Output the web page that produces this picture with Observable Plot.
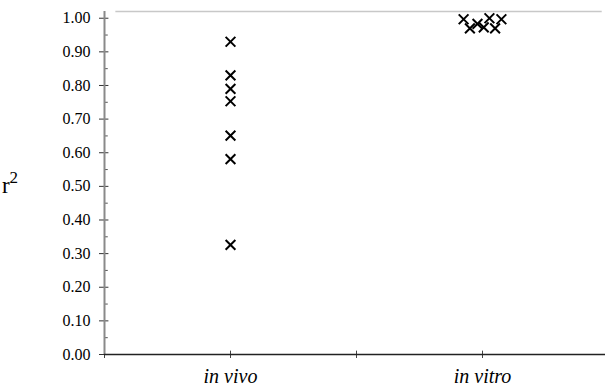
<!DOCTYPE html>
<html>
<head>
<meta charset="utf-8">
<script src="https://cdn.jsdelivr.net/npm/d3@7"></script>
<script src="https://cdn.jsdelivr.net/npm/@observablehq/plot@0.6"></script>
<style>
  html, body { margin: 0; padding: 0; background: #fff; }
  #chart { position: relative; width: 605px; height: 389px; }
</style>
</head>
<body>
<div id="chart"></div>
<script>
// Categories and their positions on the x axis (category units)
const categories = ["in vivo", "in vitro"];
const categoryX = [1, 3];

// r² values
const inVivo = [0.93, 0.83, 0.79, 0.753, 0.651, 0.581, 0.326];
const inVitro = [0.997, 0.970, 0.983, 0.973, 1.000, 0.970, 0.997];
const inVitroOffset = [-0.15, -0.10, -0.04, 0.01, 0.055, 0.10, 0.15];

// Tick values
const yTicks = d3.range(0, 11).map(i => i / 10);
const yMinorTicks = d3.range(0, 10).map(i => i / 10 + 0.05);
const xTicks = [0, 1, 2, 3];

const points = [
  ...inVivo.map(v => ({x: categoryX[0], y: v})),
  ...inVitro.map((v, i) => ({x: categoryX[1] + inVitroOffset[i], y: v}))
];
const labels = categories.map((c, i) => ({label: c, x: categoryX[i]}));

const font = "Liberation Serif";

const plot = Plot.plot({
  width: 605,
  height: 389,
  marginLeft: 104,
  marginRight: 0,
  marginTop: 11,
  marginBottom: 35,
  style: {background: "#fff"},
  x: {domain: [0, 4], range: [104, 608], label: null},
  y: {domain: [0, 1.02], label: null},
  marks: [
    Plot.ruleY([1.02], {stroke: "#c8c8c8", strokeWidth: 1.5, x1: 0.09, x2: 3.95}),
    // y axis
    Plot.axisY({ticks: yTicks, tickFormat: d3.format(".2f"), tickSize: 5, tickPadding: 9, fill: "#000", stroke: "#333", strokeWidth: 1, label: null}),
    Plot.ruleY(yTicks, {y: d => d, x1: 0, x2: 0.035, stroke: "#333", strokeWidth: 1}),
    Plot.ruleY(yMinorTicks, {y: d => d, x1: 0, x2: 0.03, stroke: "#555", strokeWidth: 1}),
    Plot.ruleX([0], {y1: 0, y2: 1.02, stroke: "#8a8a8a", strokeWidth: 2}),
    // x axis
    Plot.axisX({ticks: xTicks, tickFormat: () => "", tickSize: 4, stroke: "#444", label: null}),
    Plot.ruleX(xTicks.slice(1), {x: d => d, y1: 0, y2: 0.01, stroke: "#444"}),
    Plot.ruleY([0], {stroke: "#222", strokeWidth: 1.5}),
    Plot.text(labels, {x: "x", y: 0, text: "label", dy: 22, fontStyle: "italic", fill: "#000"}),
    // data
    Plot.dot(points, {x: "x", y: "y", symbol: "times", r: 4.5, stroke: "#000", strokeWidth: 2})
  ]
});

document.getElementById("chart").appendChild(plot);

const svg = d3.select(plot);
// serif font on every text, set as attributes on the text elements
svg.selectAll("text").attr("font-family", font).attr("font-size", 16).attr("fill", "#000");
svg.selectAll("text").filter(function() { return labels.some(l => l.label === this.textContent); })
  .attr("font-size", 20).attr("font-style", "italic");

// y axis title r²
const t = svg.append("text")
  .attr("x", 10)
  .attr("y", 193)
  .attr("font-family", font)
  .attr("fill", "#000")
  .attr("font-size", 23);
t.append("tspan").text("r");
t.append("tspan").attr("font-size", 17).attr("dy", -10).text("2");
</script>
</body>
</html>
